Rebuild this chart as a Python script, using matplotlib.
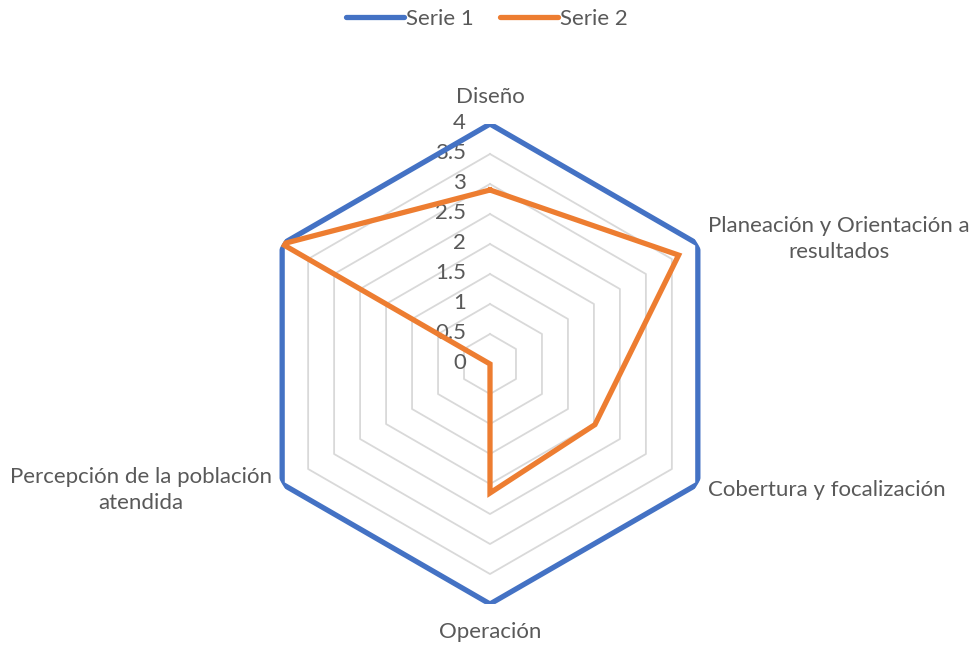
import numpy as np
import matplotlib
matplotlib.use("Agg")
import matplotlib.pyplot as plt

# categories, clockwise from the top (last axis has no label in the original)
categories = ["Diseño", "Planeación y Orientación a\nresultados", "Cobertura y focalización",
              "Operación", "Percepción de la población\natendida", ""]
serie1 = [4, 4, 4, 4, 4, 4]
serie2 = [2.9, 3.63, 2.02, 2.15, 0, 4]
ticks = [0, 0.5, 1, 1.5, 2, 2.5, 3, 3.5, 4]
tick_labels = ["0", "0.5", "1", "1.5", "2", "2.5", "3", "3.5", "4"]

plt.rcParams['font.family'] = ['Lato', 'DejaVu Sans']
text_color = "#595959"
fsize = 16

n = len(categories)
angles = np.linspace(0, 2 * np.pi, n, endpoint=False)
closed = np.append(angles, angles[0])

fig = plt.figure(figsize=(9.74, 6.5), dpi=100)
ax = fig.add_axes([250 / 974, 46 / 650, 480 / 974, 480 / 650], projection='polar')
ax.set_theta_offset(np.pi / 2)
ax.set_theta_direction(-1)
ax.set_ylim(0, 4)
ax.grid(False)
ax.spines['polar'].set_visible(False)
ax.set_xticks([])
ax.set_yticks([])
ax.patch.set_visible(False)

# hexagonal gridlines
for t in ticks[1:]:
    ax.plot(closed, [t] * (n + 1), color="#d9d9d9", lw=1.3, zorder=1)

# value labels on the vertical axis
for t, lab in zip(ticks, tick_labels):
    ax.annotate(lab, xy=(0, t), xytext=(-24, 1), textcoords='offset pixels',
                ha='right', va='center', fontsize=fsize, color=text_color)

l1, = ax.plot(closed, serie1 + serie1[:1], color="#4472C4", lw=3.8, zorder=3,
              solid_joinstyle='miter', label="Serie 1")
l2, = ax.plot(closed, serie2 + serie2[:1], color="#ED7D31", lw=3.8, zorder=4,
              solid_joinstyle='miter', label="Serie 2")

# category labels
label_offsets = [(0, 27, 'center', 'center'), (10, 5, 'left', 'center'),
                 (10, -6, 'left', 'center'), (0, -28, 'center', 'center'),
                 (-10, -6, 'right', 'center'), (0, 0, 'center', 'center')]
for ang, cat, (dx, dy, ha, va) in zip(angles, categories, label_offsets):
    if not cat:
        continue
    ax.annotate(cat, xy=(ang, 4), xytext=(dx, dy), textcoords='offset pixels',
                ha=ha, va=va, multialignment='center', fontsize=fsize,
                color=text_color, linespacing=1.4, annotation_clip=False)

leg = fig.legend(handles=[l1, l2], loc='upper center', bbox_to_anchor=(0.5, 1.017),
                 ncol=2, frameon=False, fontsize=fsize, handlelength=2.6,
                 handletextpad=0.1, columnspacing=1.2)
for txt in leg.get_texts():
    txt.set_color(text_color)
for h in leg.legend_handles:
    h.set_solid_capstyle('round')

fig.savefig("out.png", dpi=100)
